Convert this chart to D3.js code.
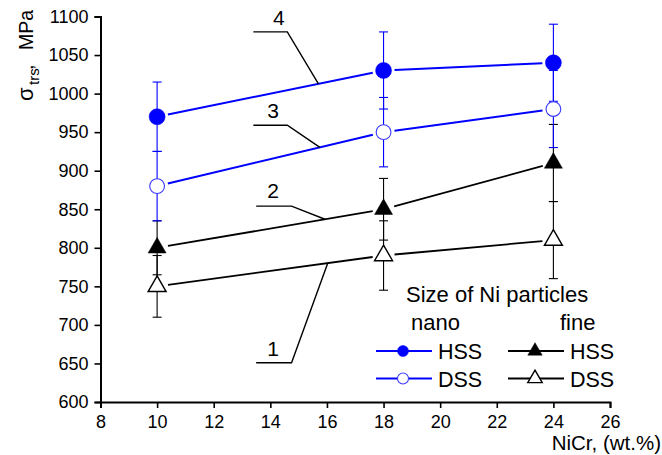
<!DOCTYPE html>
<html>
<head>
<meta charset="utf-8">
<script src="https://cdn.jsdelivr.net/npm/d3@7/dist/d3.min.js"></script>
<style>
  html, body { margin: 0; padding: 0; background: #fff; }
  svg { display: block; }
  text { font-family: "Liberation Sans", Arial, sans-serif; }
</style>
</head>
<body>
<svg id="chart" width="662" height="455"></svg>
<script>
// ---- data ----
const nicr = [10, 18, 24];
const hssNano = [970, 1030, 1040];
const hssNanoErr = [45, 50, 50];
const dssNano = [880, 950, 980];
const dssNanoErr = [45, 45, 50];
const hssFine = [800, 850, 910];
const hssFineErr = [35, 40, 50];
const dssFine = [750, 790, 810];
const dssFineErr = [40, 45, 50];

const xTickValues = [8, 10, 12, 14, 16, 18, 20, 22, 24, 26];
const yTickValues = [600, 650, 700, 750, 800, 850, 900, 950, 1000, 1050, 1100];

// callout numbers: label, label pos, horizontal leg (x0,x1,y), target x on series
const calloutLabels = ["4", "3", "2", "1"];
const calloutSeries = ["hssNano", "dssNano", "hssFine", "dssFine"];
const calloutLabelX = [14.3, 14.1, 14.1, 14.1];
const calloutLabelY = [1089, 969, 864, 660];
const calloutX0 = [13.4, 13.4, 13.5, 13.5];
const calloutX1 = [14.6, 14.6, 14.75, 14.75];
const calloutY = [1080, 959, 854, 651];
const calloutTargetX = [15.7, 15.75, 15.93, 16.03];

// ---- setup ----
const svg = d3.select("#chart");
const x = d3.scaleLinear().domain([8, 26]).range([100.5, 610]);
const y = d3.scaleLinear().domain([600, 1100]).range([402, 16.5]);

const BLUE = "#0000ff";
const series = {
  hssNano: { vals: hssNano, err: hssNanoErr, color: BLUE, shape: "circle", filled: true, stroke: BLUE },
  dssNano: { vals: dssNano, err: dssNanoErr, color: BLUE, shape: "circle", filled: false, stroke: "#3a3aff" },
  hssFine: { vals: hssFine, err: hssFineErr, color: "#000", shape: "triangle", filled: true, stroke: "#000" },
  dssFine: { vals: dssFine, err: dssFineErr, color: "#000", shape: "triangle", filled: false, stroke: "#000" }
};
const order = ["dssFine", "hssFine", "dssNano", "hssNano"];

// ---- axes ----
const gx = svg.append("g").attr("transform", `translate(0,${y(600)})`);
gx.call(d3.axisBottom(x).tickValues(d3.range(8, 26.5, 1)).tickSize(3).tickFormat(""));
gx.call(d3.axisBottom(x).tickValues(xTickValues).tickSize(6).tickPadding(7).tickFormat(d3.format("d")));
gx.selectAll("path.domain").attr("stroke", "#000").attr("stroke-width", 2);
gx.selectAll("line").attr("stroke", "#000").attr("stroke-width", 1.6);
gx.selectAll("text").attr("font-size", 18).attr("font-family", "Liberation Sans, Arial, sans-serif").attr("fill", "#000");

const gy = svg.append("g").attr("transform", `translate(${x(8)},0)`);
gy.call(d3.axisLeft(y).tickValues(d3.range(600, 1101, 25)).tickSize(3).tickFormat(""));
gy.call(d3.axisLeft(y).tickValues(yTickValues).tickSize(6).tickPadding(6).tickFormat(d3.format("d")));
gy.selectAll("path.domain").attr("stroke", "#000").attr("stroke-width", 2);
gy.selectAll("line").attr("stroke", "#000").attr("stroke-width", 1.6);
gy.selectAll("text").attr("font-size", 18).attr("font-family", "Liberation Sans, Arial, sans-serif").attr("fill", "#000");

// axis titles
svg.append("text").attr("x", 661).attr("y", 450).attr("text-anchor", "end")
  .attr("font-size", 20.5).text("NiCr, (wt.%)");

svg.append("text").attr("transform", "translate(33,101) rotate(-90)").attr("font-size", 22).text("σ");
svg.append("text").attr("transform", "translate(38.5,85) rotate(-90)").attr("font-size", 15).text("trs");
svg.append("text").attr("transform", "translate(33,70) rotate(-90)").attr("font-size", 20).text(",");
svg.append("text").attr("transform", "translate(33,50) rotate(-90)").attr("font-size", 19.5).text("MPa");

// ---- error bars ----
const gErr = svg.append("g");
order.forEach(k => {
  const s = series[k];
  nicr.forEach((xv, i) => {
    const lo = s.vals[i] - s.err[i], hi = s.vals[i] + s.err[i];
    const px = x(xv);
    gErr.append("line").attr("x1", px).attr("x2", px).attr("y1", y(lo)).attr("y2", y(hi))
      .attr("stroke", s.color).attr("stroke-width", 1.1);
    [lo, hi].forEach(v => {
      gErr.append("line").attr("x1", px - 4.5).attr("x2", px + 4.5).attr("y1", y(v)).attr("y2", y(v))
        .attr("stroke", s.color).attr("stroke-width", 1.1);
    });
  });
});

// ---- connecting lines with gaps near markers ----
const gLines = svg.append("g");
const GAP = 11;
order.forEach(k => {
  const s = series[k];
  for (let i = 0; i < nicr.length - 1; i++) {
    const x1 = x(nicr[i]), y1 = y(s.vals[i]), x2 = x(nicr[i + 1]), y2 = y(s.vals[i + 1]);
    const L = Math.hypot(x2 - x1, y2 - y1), ux = (x2 - x1) / L, uy = (y2 - y1) / L;
    gLines.append("line")
      .attr("x1", x1 + ux * GAP).attr("y1", y1 + uy * GAP)
      .attr("x2", x2 - ux * GAP).attr("y2", y2 - uy * GAP)
      .attr("stroke", s.color).attr("stroke-width", k.endsWith("Nano") ? 2 : 1.8);
  }
});

// ---- markers ----
const triPath = d3.symbol().type(d3.symbolTriangle).size(140)();
const triPathLeg = d3.symbol().type(d3.symbolTriangle).size(90)();
const gMarks = svg.append("g");
function drawMarker(g, k, px, py, legend) {
  const s = series[k];
  if (s.shape === "circle") {
    g.append("circle").attr("cx", px).attr("cy", py).attr("r", legend ? 5.5 : (s.filled ? 8 : 7.4))
      .attr("fill", s.filled ? BLUE : "#fff").attr("stroke", s.stroke).attr("stroke-width", s.filled ? 0.5 : 1.1);
  } else {
    g.append("path").attr("d", legend ? triPathLeg : triPath).attr("transform", `translate(${px},${py})`)
      .attr("fill", s.filled ? "#000" : "#fff").attr("stroke", "#000").attr("stroke-width", s.filled ? 0.5 : 1.4);
  }
}
order.forEach(k => {
  nicr.forEach((xv, i) => drawMarker(gMarks, k, x(xv), y(series[k].vals[i]), false));
});

// ---- callouts ----
const gCall = svg.append("g");
calloutLabels.forEach((lab, j) => {
  const s = series[calloutSeries[j]];
  const tx = calloutTargetX[j];
  const i = tx < nicr[1] ? 0 : 1;
  const t = (tx - nicr[i]) / (nicr[i + 1] - nicr[i]);
  const ty = s.vals[i] + t * (s.vals[i + 1] - s.vals[i]);
  gCall.append("polyline")
    .attr("points", [[x(calloutX0[j]), y(calloutY[j])], [x(calloutX1[j]), y(calloutY[j])], [x(tx), y(ty)]].map(p => p.join(",")).join(" "))
    .attr("fill", "none").attr("stroke", "#000").attr("stroke-width", 1.4);
  gCall.append("text").attr("x", x(calloutLabelX[j])).attr("y", y(calloutLabelY[j]))
    .attr("text-anchor", "middle").attr("font-family", "Liberation Serif, Times New Roman, serif")
    .attr("font-size", 21).text(lab);
});

// ---- legend ----
const legTitle = "Size of Ni particles";
const legGroups = ["nano", "fine"];
const legTypes = ["HSS", "DSS"];
const lg = svg.append("g");
lg.append("text").attr("x", 406).attr("y", 302).attr("font-size", 22).text(legTitle);
lg.append("text").attr("x", 411).attr("y", 330).attr("font-size", 22).text(legGroups[0]);
lg.append("text").attr("x", 560).attr("y", 330).attr("font-size", 22).text(legGroups[1]);
const legKeys = [["hssNano", "dssNano"], ["hssFine", "dssFine"]];
const legX0 = [376, 508];
legKeys.forEach((col, c) => {
  col.forEach((k, r) => {
    const yy = 351 + r * 27.5;
    const s = series[k];
    lg.append("line").attr("x1", legX0[c]).attr("x2", legX0[c] + 56).attr("y1", yy).attr("y2", yy)
      .attr("stroke", s.color).attr("stroke-width", k.endsWith("Nano") ? 2 : 1.8);
    drawMarker(lg, k, legX0[c] + 27, yy, true);
    lg.append("text").attr("x", legX0[c] + 62).attr("y", yy + 8).attr("font-size", 21.5).text(legTypes[r]);
  });
});
</script>
</body>
</html>
